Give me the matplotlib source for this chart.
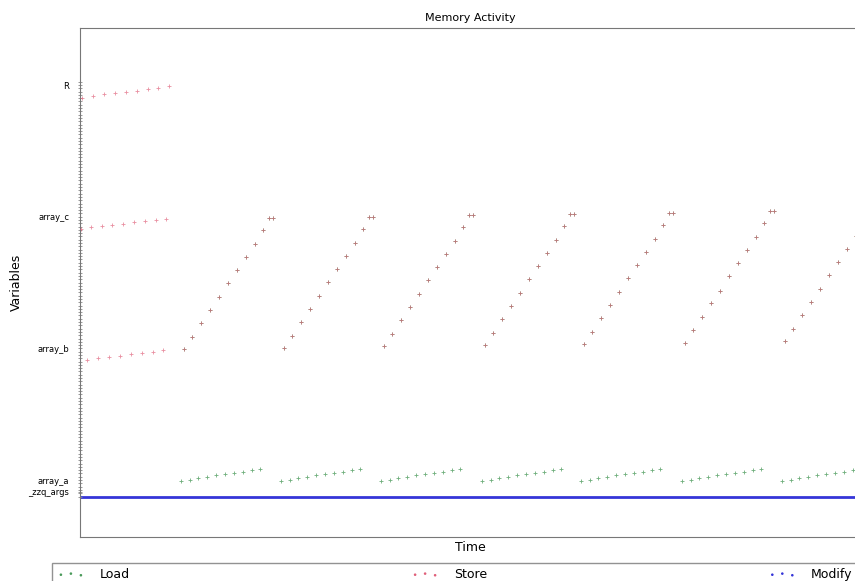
import numpy as np
import matplotlib
matplotlib.use("Agg")
import matplotlib.pyplot as plt

# y positions of the variables (address-like units, array_a = 0)
var_names = ["_zzq_args", "array_a", "array_b", "array_c", "R"]
var_pos = [-3.5, 0, 40, 80, 120]

# initial stores (time, address)
init_R_t = [0.2, 1.3, 2.4, 3.5, 4.6, 5.7, 6.8, 7.8, 8.9]
init_R_y = [116.1, 116.7, 117.3, 117.6, 117.9, 118.2, 118.8, 119.1, 119.7]
init_c_t = [0.1, 1.1, 2.2, 3.2, 4.3, 5.4, 6.5, 7.6, 8.6]
init_c_y = [76.4, 77.0, 77.3, 77.6, 77.9, 78.5, 78.8, 79.1, 79.4]
init_b_t = [0.7, 1.8, 2.9, 4.0, 5.1, 6.2, 7.3, 8.3]
init_b_y = [36.4, 37.0, 37.3, 37.6, 38.2, 38.5, 38.8, 39.4]

# repeating loop blocks
block_start = [10.4, 20.4, 30.4, 40.5, 50.4, 60.5, 70.5]
block_shift = [0.0, 0.3, 0.9, 1.2, 1.5, 2.0, 2.4]
diag_dt = [0, 0.8, 1.7, 2.6, 3.5, 4.4, 5.3, 6.2, 7.1, 7.9, 8.5, 8.9]
diag_y = [39.7, 43.6, 47.6, 51.8, 55.5, 60.0, 63.9, 67.9, 71.8, 76.1, 79.7, 79.7]
load_dt = [-0.3, 0.6, 1.4, 2.3, 3.2, 4.1, 5.0, 5.9, 6.8, 7.6]
load_y = [-0.3, 0.0, 0.6, 0.9, 1.5, 1.8, 2.1, 2.4, 3.0, 3.3]

# modify activity (continuous)
modify_t = [0, 78]
modify_y = [-5, -5]

# build series
store_t = list(init_R_t) + list(init_c_t) + list(init_b_t)
store_y = list(init_R_y) + list(init_c_y) + list(init_b_y)
ld_t, ld_y = [], []
for s, sh in zip(block_start, block_shift):
    for dt, y in zip(diag_dt, diag_y):
        store_t.append(s + dt)
        store_y.append(y + sh)
        ld_t.append(s + dt)
        ld_y.append(y + sh)
    for dt, y in zip(load_dt, load_y):
        ld_t.append(s + dt)
        ld_y.append(y)

fig = plt.figure(figsize=(8.55, 5.81), dpi=100)
ax = fig.add_axes([0.0936, 0.0757, 0.912, 0.876])

ax.plot(modify_t, modify_y, color="#3535d8", lw=2, zorder=1)
ax.scatter(ld_t, ld_y, marker="+", s=5, linewidths=0.6, color="#4a9a5a", alpha=0.8, zorder=2)
ax.scatter(store_t, store_y, marker="+", s=5, linewidths=0.6, color="#e0607a", alpha=0.7, zorder=3)

# legend proxies
ax.scatter([], [], marker=".", s=3, color="#4a9a5a", label="Load")
ax.scatter([], [], marker=".", s=3, color="#e0607a", label="Store")
ax.scatter([], [], marker=".", s=3, color="#3535d8", label="Modify")

ax.set_xlim(0, 78)
ax.set_ylim(-17.3, 137.3)
ax.set_xticks([])
ax.set_yticks(var_pos)
ax.set_yticklabels(var_names, fontsize=6)
ax.set_yticks(np.arange(-5, 122, 1), minor=True)
ax.tick_params(axis="y", which="minor", length=3.5, width=0.6, color="#888888", direction="inout")
ax.tick_params(axis="y", which="major", length=3.5, width=0.6, color="#888888",
               direction="inout", pad=6)
for sp in ax.spines.values():
    sp.set_color("#777777")

ax.set_title("Memory Activity", fontsize=8, pad=5)
ax.set_xlabel("Time", fontsize=9, labelpad=3)
ax.set_ylabel("Variables", fontsize=9)

fig.legend(loc="upper left", bbox_to_anchor=(0.061, -0.05, 0.942, 0.081), mode="expand",
           ncol=3, scatterpoints=3, fontsize=9, fancybox=False, edgecolor="#777777",
           handlelength=2.2, handletextpad=1.2, borderaxespad=0)

fig.savefig("out.png", dpi=100)
